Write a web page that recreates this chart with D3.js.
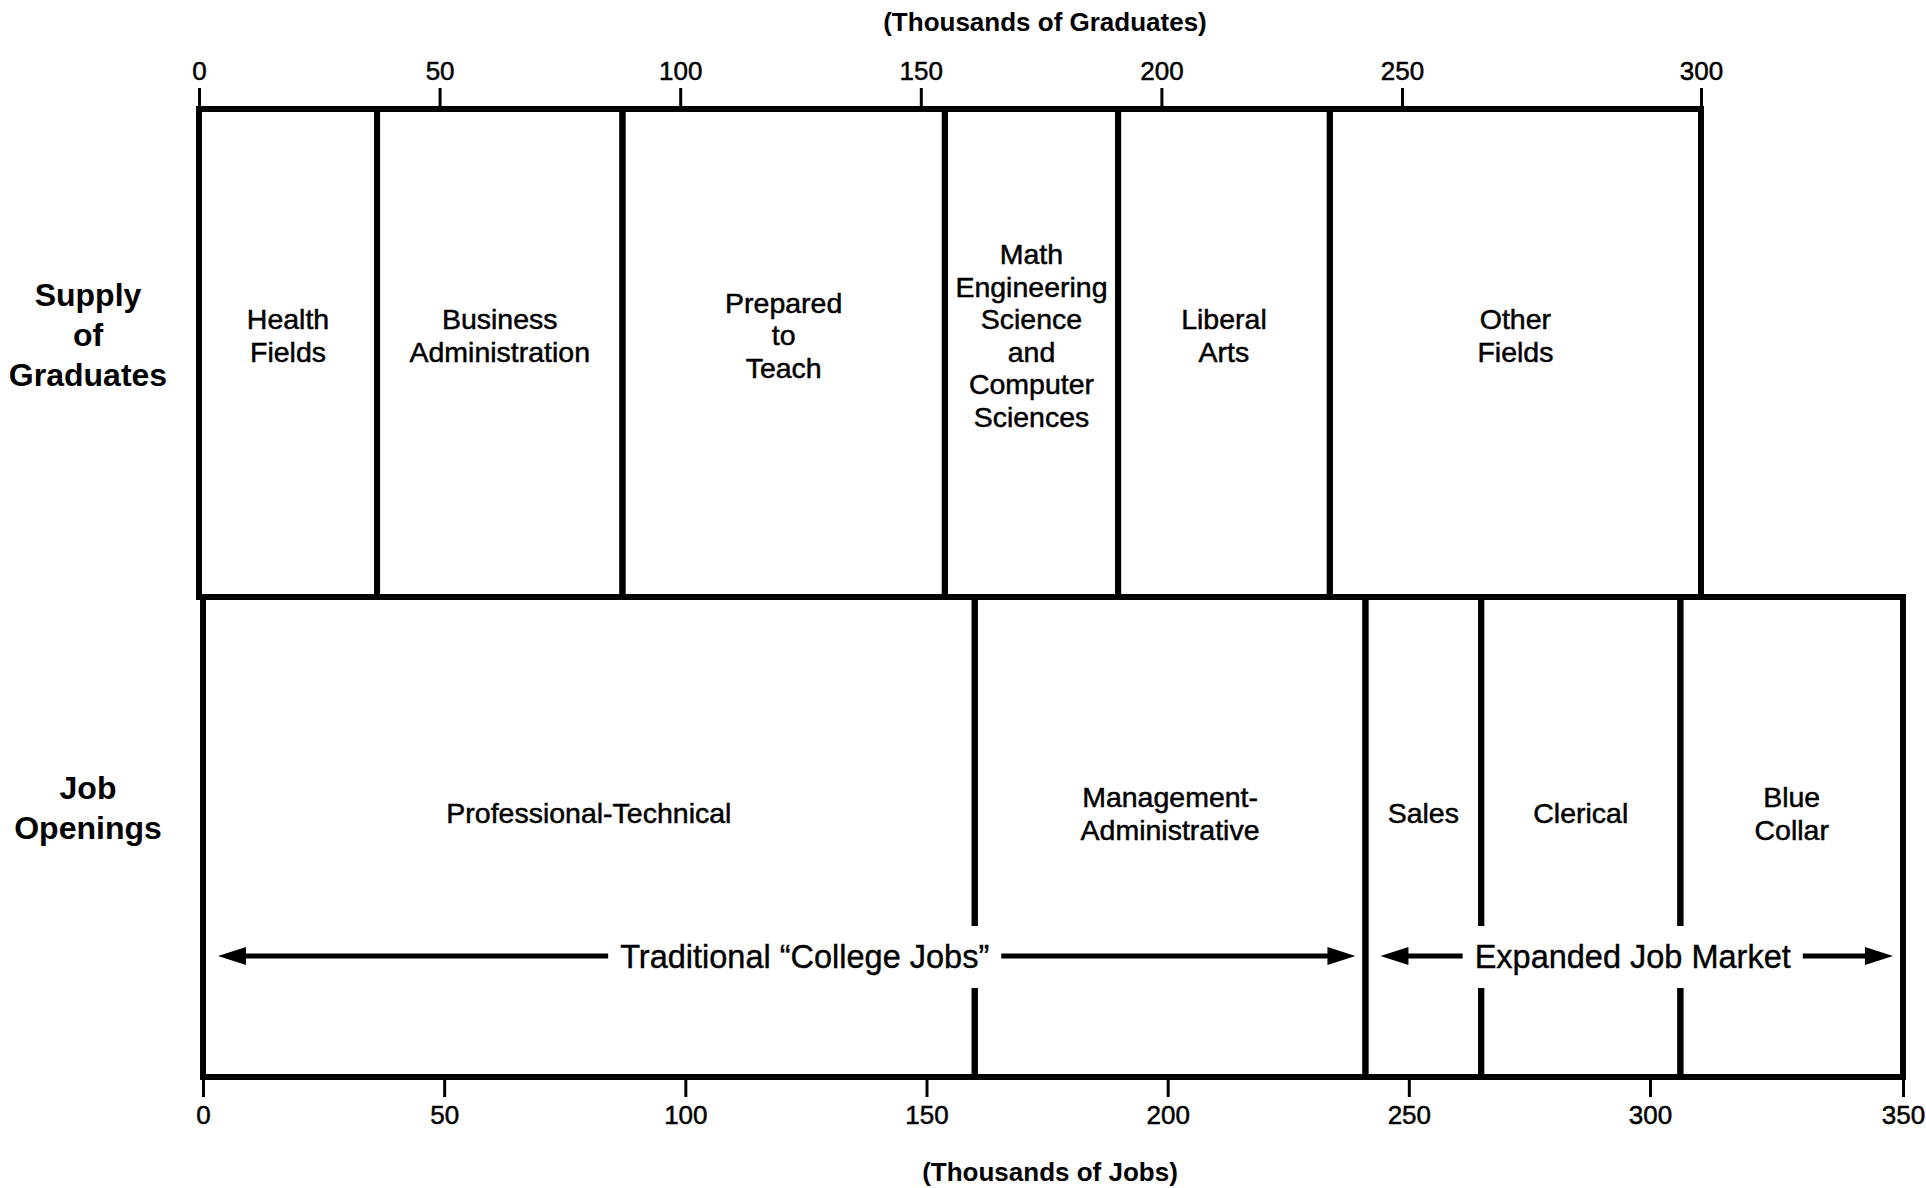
<!DOCTYPE html>
<html>
<head>
<meta charset="utf-8">
<script src="https://cdn.jsdelivr.net/npm/d3@7"></script>
<style>
    body{margin:0;background:#fff;}
    text{font-family:"Liberation Sans",Arial,sans-serif;fill:#000;}
</style>
</head>
<body>
<svg id="chart" width="1926" height="1188"></svg>
<script>
// supply of graduates, thousands
var gradFields = [["Health","Fields"],["Business","Administration"],["Prepared","to","Teach"],
		  ["Math","Engineering","Science","and","Computer","Sciences"],["Liberal","Arts"],["Other","Fields"]];
var gradValues = [37, 51, 67, 36, 44, 65];
var gradTicks = [0, 50, 100, 150, 200, 250, 300];

// job openings, thousands
var jobFields = [["Professional-Technical"],["Management-","Administrative"],["Sales"],["Clerical"],["Blue","Collar"]];
var jobValues = [160, 81, 24, 41, 44];
var jobTicks = [0, 50, 100, 150, 200, 250, 300, 350];

// job categories grouped (count of categories in each group)
var groupNames = ["Traditional \u201CCollege Jobs\u201D", "Expanded Job Market"];
var groupSizes = [2, 3];

var svg = d3.select("#chart");

// both printed axes stretch their last interval
var xGrad = d3.scaleLinear().domain([0, 250, 300]).range([199, 1402, 1701]);
var xJob = d3.scaleLinear().domain([0, 300, 350]).range([203, 1650, 1903]);

var topY0 = 109, midY = 597, botY1 = 1077;
var labelFont = "28.5px";

function cells(labels, values){
    var ends = d3.cumsum(values);
    return values.map((v,i) => ({x0: ends[i]-v, x1: ends[i], lines: labels[i]}));
}

function drawRow(cls, data, x, y0, y1, labelY, lineH){
    var g = svg.append("g").attr("class", cls);

    g.selectAll(".cell")
	.data(data)
	.enter()
	.append("rect")
	.attr("class","cell")
	.attr("x", d => x(d.x0))
	.attr("y", y0)
	.attr("width", d => x(d.x1)-x(d.x0))
	.attr("height", y1-y0)
	.attr("fill","none")
	.attr("stroke","black")
	.attr("stroke-width",6);

    var labels = g.selectAll(".label")
	.data(data)
	.enter()
	.append("text")
	.attr("class","label")
	.attr("text-anchor","middle")
	.attr("stroke","black")
	.attr("stroke-width",0.5)
	.style("font-size",labelFont);

    labels.selectAll("tspan")
	.data(d => d.lines.map((t,j) => ({t:t, j:j, n:d.lines.length, cx:(x(d.x0)+x(d.x1))/2})))
	.enter()
	.append("tspan")
	.attr("x", d => d.cx)
	.attr("y", d => labelY + (d.j-(d.n-1)/2)*lineH)
	.attr("dy","0.36em")
	.text(d => d.t);
    return g;
}

drawRow("grad", cells(gradFields, gradValues), xGrad, topY0, midY, 335, 32.5);
var jobRow = drawRow("job", cells(jobFields, jobValues), xJob, midY, botY1, 813, 33);

// group arrows across the job row
var jobEnds = d3.cumsum(jobValues);
var groupEnds = d3.cumsum(groupSizes).map(k => jobEnds[k-1]);
var arrowY = 956;
groupNames.forEach(function(name, i){
    var a = xJob(i == 0 ? 0 : groupEnds[i-1]) + 15, b = xJob(groupEnds[i]) - 10;
    var t = jobRow.append("text")
	.attr("x", (a+b)/2 + (i==0 ? 18 : -4))
	.attr("y", arrowY)
	.attr("dy","0.36em")
	.attr("text-anchor","middle")
	.attr("stroke","black")
	.attr("stroke-width",0.4)
	.style("font-size","32.5px")
	.text(name);
    var w = t.node().getComputedTextLength(), cx = +t.attr("x");
    // knock the dividers out behind the text
    jobRow.insert("rect", function(){ return t.node(); })
	.attr("x", cx-w/2-10).attr("y", arrowY-30)
	.attr("width", w+20).attr("height", 62)
	.attr("fill","white");
    [[cx-w/2-12, a], [cx+w/2+12, b]].forEach(function(p){
	var dir = p[1] < p[0] ? -1 : 1;
	jobRow.append("line")
	    .attr("x1", p[0]).attr("x2", p[1]-dir*20)
	    .attr("y1", arrowY).attr("y2", arrowY)
	    .attr("stroke","black").attr("stroke-width",5);
	jobRow.append("path")
	    .attr("d", "M"+p[1]+","+arrowY+"L"+(p[1]-dir*28)+","+(arrowY-9)+"L"+(p[1]-dir*28)+","+(arrowY+9)+"Z")
	    .attr("fill","black");
    });
});

// axes
var topAxis = svg.append("g")
    .attr("transform","translate(0,"+topY0+")")
    .call(d3.axisTop(xGrad).tickValues(gradTicks).tickSize(21).tickPadding(8).tickFormat(d3.format("d")));
var botAxis = svg.append("g")
    .attr("transform","translate(0,"+botY1+")")
    .call(d3.axisBottom(xJob).tickValues(jobTicks).tickSize(20).tickPadding(9).tickFormat(d3.format("d")));
[topAxis, botAxis].forEach(function(ax){
    ax.select(".domain").remove();
    ax.selectAll(".tick line").attr("stroke","black").attr("stroke-width",3);
    ax.selectAll(".tick text")
	.attr("fill","black")
	.attr("stroke","black")
	.attr("stroke-width",0.5)
	.style("font-family","'Liberation Sans',Arial,sans-serif")
	.style("font-size","26px");
});

svg.append("text")
    .attr("x",1045).attr("y",22).attr("dy","0.36em")
    .attr("text-anchor","middle")
    .style("font-size","26px").style("font-weight","bold")
    .text("(Thousands of Graduates)");
svg.append("text")
    .attr("x",1050).attr("y",1172).attr("dy","0.36em")
    .attr("text-anchor","middle")
    .style("font-size","26px").style("font-weight","bold")
    .text("(Thousands of Jobs)");

// row titles
var rowTitles = [{lines:["Supply","of","Graduates"], y:334, lh:40}, {lines:["Job","Openings"], y:807, lh:40}];
rowTitles.forEach(function(r){
    var t = svg.append("text")
	.attr("text-anchor","middle")
	.style("font-size","32px")
	.style("font-weight","bold");
    r.lines.forEach(function(s, j){
	t.append("tspan")
	    .attr("x", 88)
	    .attr("y", r.y + (j-(r.lines.length-1)/2)*r.lh)
	    .attr("dy","0.36em")
	    .text(s);
    });
});
</script>
</body>
</html>
